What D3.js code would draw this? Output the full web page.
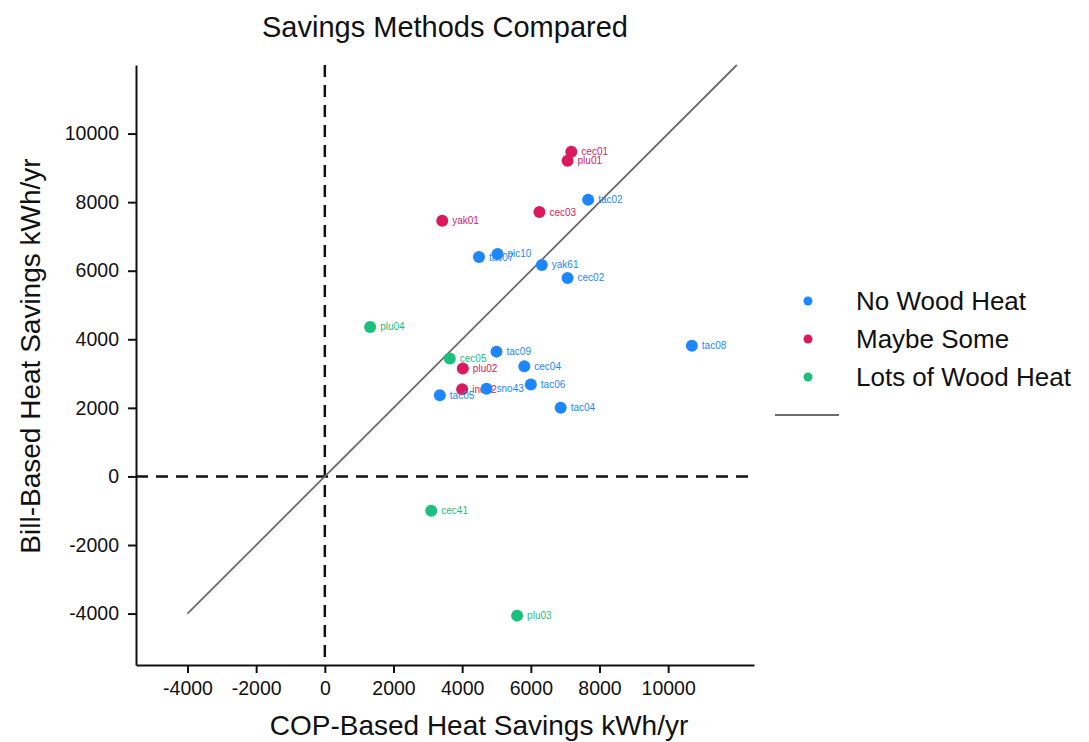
<!DOCTYPE html>
<html>
<head>
<meta charset="utf-8">
<script src="https://cdn.jsdelivr.net/npm/d3@7"></script>
<style>
  body { margin: 0; background: #fff; }
  text { font-family: "Liberation Sans", Arial, sans-serif; }
</style>
</head>
<body>
<svg id="chart"></svg>
<script>
// data
const sites = ["cec01", "plu01", "tac02", "cec03", "yak01", "tac07", "pic10", "yak61", "cec02",
               "plu04", "cec05", "tac09", "plu02", "cec04", "tac06", "ind02", "sno43", "tac05",
               "tac04", "tac08", "cec41", "plu03"];
const copSavings = [7180, 7070, 7670, 6250, 3420, 4490, 5030, 6320, 7070,
                    1320, 3640, 5000, 4020, 5810, 6000, 4000, 4710, 3350,
                    6870, 10690, 3100, 5600];
const billSavings = [9470, 9210, 8070, 7710, 7460, 6400, 6490, 6170, 5790,
                     4360, 3440, 3640, 3150, 3210, 2680, 2540, 2560, 2370,
                     2000, 3810, -1000, -4060];
const woodGroup = [1, 1, 0, 1, 1, 0, 0, 0, 0,
                   2, 2, 0, 1, 0, 0, 1, 0, 0,
                   0, 0, 2, 2];
const groupNames = ["No Wood Heat", "Maybe Some", "Lots of Wood Heat"];
const xTicks = [-4000, -2000, 0, 2000, 4000, 6000, 8000, 10000];
const yTicks = [-4000, -2000, 0, 2000, 4000, 6000, 8000, 10000];
const equalLine = [-4000, 12000];

const colors = ["#1E86FF", "#DA1A5C", "#1BBF7E"];

const width = 1089, height = 742;
const svg = d3.select('#chart').attr('width', width).attr('height', height);

const xscale = d3.scaleLinear().domain([-5500, 12500]).range([136, 754]);
const yscale = d3.scaleLinear().domain([-5500, 12000]).range([665, 65]);

// title
svg.append('text')
    .attr('x', 445).attr('y', 37)
    .attr('text-anchor', 'middle')
    .attr('font-size', 29)
    .attr('fill', '#111')
    .text('Savings Methods Compared');

// axes
const fmt = d => String(d);
const xaxis = d3.axisBottom(xscale).tickValues(xTicks).tickFormat(fmt).tickSize(8).tickPadding(8).tickSizeOuter(0);
const yaxis = d3.axisLeft(yscale).tickValues(yTicks).tickFormat(fmt).tickSize(8).tickPadding(9).tickSizeOuter(0);

const gx = svg.append('g').attr('transform', 'translate(0,665)').call(xaxis);
const gy = svg.append('g').attr('transform', 'translate(136,0)').call(yaxis);
[gx, gy].forEach(g => {
    g.select('.domain').attr('stroke', '#111').attr('stroke-width', 2);
    g.selectAll('.tick line').attr('stroke', '#111').attr('stroke-width', 2);
    g.selectAll('.tick text').attr('font-size', 19.5).attr('fill', '#111')
        .attr('font-family', '"Liberation Sans", Arial, sans-serif');
});

// axis titles
svg.append('text')
    .attr('x', 479).attr('y', 735)
    .attr('text-anchor', 'middle')
    .attr('font-size', 28)
    .attr('fill', '#111')
    .text('COP-Based Heat Savings kWh/yr');

svg.append('text')
    .attr('transform', 'translate(40,356) rotate(-90)')
    .attr('text-anchor', 'middle')
    .attr('font-size', 28)
    .attr('fill', '#111')
    .text('Bill-Based Heat Savings kWh/yr');

// zero reference lines
svg.append('line')
    .attr('x1', xscale(0)).attr('x2', xscale(0))
    .attr('y1', yscale(12000)).attr('y2', yscale(-5500))
    .attr('stroke', '#111').attr('stroke-width', 2.5).attr('stroke-dasharray', '12,8');
svg.append('line')
    .attr('x1', xscale(-5500)).attr('x2', xscale(12500))
    .attr('y1', yscale(0)).attr('y2', yscale(0))
    .attr('stroke', '#111').attr('stroke-width', 2.5).attr('stroke-dasharray', '12,8');

// 1:1 line
const line = d3.line().x(d => xscale(d)).y(d => yscale(d));
svg.append('path')
    .datum(equalLine)
    .attr('d', line)
    .attr('stroke', '#6b6b6b')
    .attr('stroke-width', 1.8)
    .attr('fill', 'none');

// points
const pts = svg.append('g').selectAll('g')
    .data(sites.map((s, i) => ({ s, x: copSavings[i], y: billSavings[i], g: woodGroup[i] })))
    .enter().append('g');

pts.append('circle')
    .attr('cx', d => xscale(d.x))
    .attr('cy', d => yscale(d.y))
    .attr('r', 6)
    .attr('fill', d => colors[d.g]);

pts.append('text')
    .attr('x', d => xscale(d.x) + 10)
    .attr('y', d => yscale(d.y) + 3.5)
    .attr('font-size', 10)
    .attr('fill', d => colors[d.g])
    .text(d => d.s);

// legend
const legend = svg.append('g');
groupNames.forEach((name, i) => {
    legend.append('circle')
        .attr('cx', 808).attr('cy', 301 + i * 38)
        .attr('r', 4.5)
        .attr('fill', colors[i]);
    legend.append('text')
        .attr('x', 856).attr('y', 301 + i * 38 + 9)
        .attr('font-size', 26)
        .attr('fill', '#111')
        .text(name);
});
legend.append('line')
    .attr('x1', 775).attr('x2', 839)
    .attr('y1', 415).attr('y2', 415)
    .attr('stroke', '#6b6b6b').attr('stroke-width', 2);
</script>
</body>
</html>
